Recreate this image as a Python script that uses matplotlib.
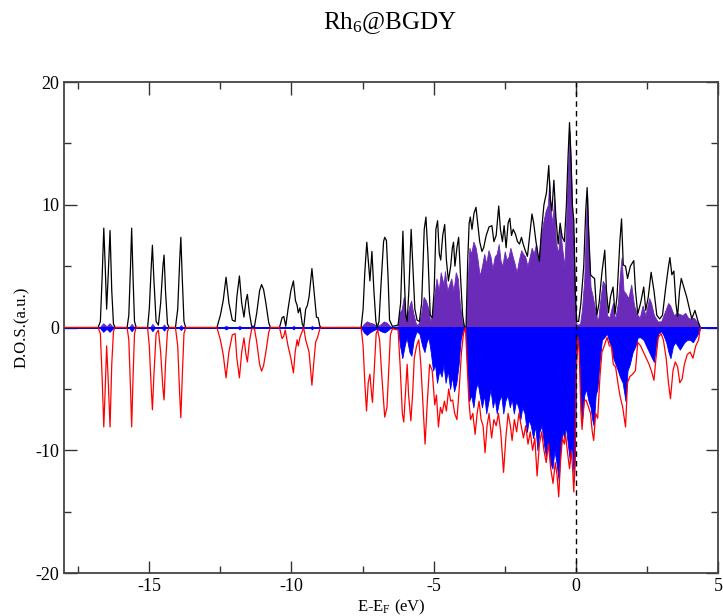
import matplotlib
matplotlib.use("Agg")
import matplotlib.pyplot as plt
import numpy as np

plt.rcParams['font.family'] = ['Liberation Serif', 'DejaVu Serif']
plt.rcParams['mathtext.fontset'] = 'custom'
plt.rcParams['mathtext.rm'] = 'Liberation Serif'
plt.rcParams['mathtext.it'] = 'Liberation Serif:italic'
plt.rcParams['axes.unicode_minus'] = False

# total DOS, spin up (E-E_F, DOS)
up_total = [
    (-18.0, 0), (-16.80, 0), (-16.72, 0.5), (-16.66, 4.0), (-16.60, 8.1), (-16.55, 5.0), (-16.50, 1.5),
    (-16.45, 4.0), (-16.38, 7.9), (-16.32, 3.0), (-16.26, 0.3), (-16.20, 0),
    (-15.78, 0), (-15.72, 1.0), (-15.66, 5.0), (-15.62, 8.1), (-15.57, 4.0), (-15.52, 0.5), (-15.46, 0),
    (-15.06, 0), (-15.00, 1.5), (-14.93, 5.0), (-14.89, 6.7), (-14.84, 4.0), (-14.76, 0.5), (-14.68, 0.2),
    (-14.60, 2.0), (-14.52, 5.0), (-14.48, 5.9), (-14.43, 3.0), (-14.36, 0.3), (-14.30, 0),
    (-14.08, 0), (-14.00, 1.5), (-13.93, 5.5), (-13.89, 7.35), (-13.84, 4.0), (-13.78, 0.5), (-13.72, 0),
    (-12.62, 0), (-12.50, 1.0), (-12.40, 2.2), (-12.30, 4.1), (-12.20, 2.0), (-12.08, 0.6), (-11.98, 0.5),
    (-11.92, 2.5), (-11.83, 4.2), (-11.75, 2.0), (-11.67, 0.85), (-11.60, 2.2), (-11.55, 2.7), (-11.48, 1.2),
    (-11.40, 0.1), (-11.30, 0.1), (-11.22, 1.2), (-11.12, 3.0), (-11.05, 3.5), (-10.98, 3.1), (-10.90, 2.0),
    (-10.80, 0.4), (-10.74, 0),
    (-10.42, 0), (-10.33, 0.8), (-10.27, 0.9), (-10.20, 0.1), (-10.12, 1.5), (-10.02, 3.0), (-9.93, 3.8),
    (-9.86, 2.2), (-9.80, 1.8), (-9.76, 1.2), (-9.70, 1.6), (-9.62, 0.3), (-9.57, 0), (-9.50, 1.5),
    (-9.44, 1.8), (-9.38, 2.5), (-9.28, 4.8), (-9.20, 2.8), (-9.12, 0.85), (-9.06, 0.8), (-9.00, 0.1), (-8.95, 0),
    (-7.55, 0), (-7.48, 1.5), (-7.42, 4.5), (-7.35, 6.95), (-7.28, 5.0), (-7.24, 3.8), (-7.20, 5.2),
    (-7.17, 6.2), (-7.10, 3.0), (-7.03, 0.5), (-6.98, 0), (-6.92, 0.5), (-6.85, 3.5), (-6.76, 7.0),
    (-6.72, 7.35), (-6.66, 7.1), (-6.60, 4.0), (-6.55, 0.6), (-6.45, 0.1), (-6.25, 0.2), (-6.16, 2.0),
    (-6.08, 7.85), (-6.03, 4.0), (-5.98, 1.0), (-5.93, 0.5), (-5.87, 3.0), (-5.79, 8.0), (-5.73, 5.0),
    (-5.66, 1.5), (-5.58, 0.6), (-5.50, 0.5), (-5.42, 2.0), (-5.33, 8.0), (-5.27, 9.0), (-5.20, 6.0),
    (-5.12, 1.0), (-5.05, 0.8), (-4.98, 3.0), (-4.92, 8.0), (-4.86, 8.7), (-4.80, 6.0), (-4.75, 5.5),
    (-4.68, 7.5), (-4.61, 8.4), (-4.55, 5.5), (-4.48, 3.8), (-4.40, 5.0), (-4.34, 6.5), (-4.30, 6.95),
    (-4.25, 5.0), (-4.18, 6.5), (-4.12, 7.35), (-4.05, 4.0), (-3.98, 1.0), (-3.92, 0.1), (-3.86, 0),
    (-3.80, 5.5), (-3.75, 8.5), (-3.71, 9.0), (-3.65, 8.0), (-3.58, 9.3), (-3.51, 9.8), (-3.45, 8.5),
    (-3.38, 7.0), (-3.30, 6.2), (-3.24, 6.5), (-3.15, 7.5), (-3.05, 8.2), (-2.95, 8.3), (-2.88, 7.0),
    (-2.80, 7.5), (-2.71, 9.9), (-2.65, 8.0), (-2.58, 7.0), (-2.52, 8.3), (-2.45, 6.5), (-2.38, 8.5),
    (-2.32, 8.9), (-2.26, 7.5), (-2.20, 8.0), (-2.12, 7.6), (-2.05, 7.0), (-1.98, 6.8), (-1.91, 7.35),
    (-1.85, 6.8), (-1.78, 6.3), (-1.70, 5.8), (-1.62, 7.5), (-1.54, 9.25), (-1.48, 8.5), (-1.40, 7.0),
    (-1.33, 6.0), (-1.28, 5.4), (-1.22, 7.5), (-1.12, 10.0), (-1.03, 11.0), (-0.95, 13.2), (-0.90, 10.5),
    (-0.84, 9.5), (-0.77, 12.0), (-0.70, 9.0), (-0.62, 6.8), (-0.55, 8.5), (-0.48, 7.4), (-0.40, 7.0),
    (-0.33, 10.0), (-0.27, 14.0), (-0.22, 16.7), (-0.17, 14.0), (-0.12, 10.0), (-0.07, 8.7), (-0.02, 3.0),
    (0.03, 0.5), (0.10, 0.5), (0.18, 2.0), (0.28, 5.0), (0.35, 9.5), (0.40, 11.4), (0.45, 8.0),
    (0.52, 4.3), (0.60, 4.1), (0.66, 4.0), (0.74, 1.0), (0.82, 2.0), (0.92, 4.5), (1.02, 6.3),
    (1.08, 3.0), (1.15, 1.2), (1.22, 2.5), (1.31, 3.3), (1.38, 1.1), (1.45, 2.5), (1.55, 7.0),
    (1.61, 8.85), (1.67, 5.1), (1.75, 5.0), (1.82, 4.0), (1.92, 5.0), (2.04, 5.45), (2.10, 3.0),
    (2.18, 1.1), (2.28, 2.0), (2.39, 3.3), (2.46, 1.4), (2.55, 2.5), (2.65, 4.5), (2.75, 3.0),
    (2.85, 1.0), (2.95, 0.7), (3.05, 1.0), (3.15, 3.0), (3.25, 4.8), (3.31, 5.7), (3.38, 4.3),
    (3.45, 4.6), (3.52, 2.0), (3.58, 0.9), (3.65, 3.0), (3.71, 4.0), (3.80, 3.3), (3.90, 2.5),
    (4.00, 1.5), (4.08, 0.7), (4.19, 1.4), (4.30, 0.5), (4.38, 0),
]

# total DOS, spin down
dn_total = [
    (-18.0, 0), (-16.80, 0), (-16.72, -0.5), (-16.66, -4.0), (-16.60, -8.1), (-16.55, -5.0), (-16.50, -1.5),
    (-16.45, -4.0), (-16.38, -8.1), (-16.32, -3.0), (-16.26, -0.3), (-16.20, 0),
    (-15.78, 0), (-15.72, -1.0), (-15.66, -5.0), (-15.62, -8.1), (-15.57, -4.0), (-15.52, -0.5), (-15.46, 0),
    (-15.06, 0), (-15.00, -1.5), (-14.93, -5.0), (-14.89, -6.7), (-14.84, -4.0), (-14.76, -0.5), (-14.68, -0.2),
    (-14.60, -2.0), (-14.52, -5.0), (-14.48, -5.9), (-14.43, -3.0), (-14.36, -0.3), (-14.30, 0),
    (-14.08, 0), (-14.00, -1.5), (-13.93, -5.5), (-13.89, -7.35), (-13.84, -4.0), (-13.78, -0.5), (-13.72, 0),
    (-12.62, 0), (-12.50, -1.0), (-12.40, -2.2), (-12.30, -4.1), (-12.20, -2.0), (-12.08, -0.6), (-11.98, -0.5),
    (-11.92, -2.5), (-11.83, -4.1), (-11.75, -2.0), (-11.67, -0.85), (-11.60, -2.2), (-11.55, -2.8), (-11.48, -1.2),
    (-11.40, -0.1), (-11.30, -0.1), (-11.22, -1.2), (-11.12, -3.0), (-11.05, -3.55), (-10.98, -3.1), (-10.90, -2.0),
    (-10.80, -0.4), (-10.74, 0),
    (-10.42, 0), (-10.33, -0.9), (-10.27, -0.7), (-10.22, -0.2), (-10.12, -1.5), (-10.02, -2.5), (-9.93, -3.7),
    (-9.87, -2.0), (-9.80, -1.0), (-9.76, -1.5), (-9.70, -0.8), (-9.62, -0.3), (-9.57, 0), (-9.50, -1.0),
    (-9.44, -1.5), (-9.38, -2.0), (-9.28, -4.7), (-9.22, -3.0), (-9.15, -1.2), (-9.08, -0.8), (-9.00, -0.1), (-8.95, 0),
    (-7.55, 0), (-7.48, -1.5), (-7.42, -4.5), (-7.36, -6.8), (-7.30, -4.5), (-7.24, -3.8), (-7.18, -5.5),
    (-7.15, -6.1), (-7.08, -3.0), (-7.02, -0.5), (-6.97, -0.2), (-6.90, -1.0), (-6.82, -4.0), (-6.72, -7.3),
    (-6.64, -6.5), (-6.58, -3.5), (-6.52, -0.6), (-6.45, -0.1), (-6.25, -0.2), (-6.18, -3.0), (-6.10, -7.0),
    (-6.05, -7.7), (-5.98, -5.0), (-5.93, -3.0), (-5.88, -5.5), (-5.80, -7.6), (-5.74, -5.5), (-5.68, -2.5),
    (-5.60, -1.5), (-5.52, -1.0), (-5.45, -3.0), (-5.36, -7.0), (-5.30, -9.5), (-5.22, -6.0), (-5.14, -3.0),
    (-5.05, -3.5), (-4.96, -6.3), (-4.90, -5.5), (-4.83, -8.1), (-4.76, -6.5), (-4.70, -7.0), (-4.62, -6.0),
    (-4.55, -6.8), (-4.47, -5.0), (-4.40, -6.0), (-4.33, -5.9), (-4.26, -7.0), (-4.18, -7.5), (-4.10, -5.0),
    (-4.02, -2.0), (-3.95, -0.5), (-3.88, 0),
    (-3.82, -3.0), (-3.76, -6.0), (-3.70, -7.5), (-3.62, -7.0), (-3.54, -8.7), (-3.47, -7.0), (-3.40, -6.0),
    (-3.33, -7.5), (-3.26, -8.0), (-3.19, -10.2), (-3.12, -8.0), (-3.05, -7.0), (-2.96, -9.0), (-2.88, -7.5),
    (-2.80, -8.0), (-2.72, -7.0), (-2.64, -8.5), (-2.54, -11.8), (-2.46, -9.0), (-2.38, -7.0), (-2.30, -8.0),
    (-2.24, -9.2), (-2.16, -7.5), (-2.08, -8.5), (-2.00, -7.0), (-1.92, -8.0), (-1.84, -9.0), (-1.76, -8.0),
    (-1.68, -9.5), (-1.60, -8.5), (-1.52, -10.0), (-1.44, -9.0), (-1.36, -12.1), (-1.28, -9.5), (-1.20, -8.5),
    (-1.12, -10.0), (-1.04, -11.0), (-0.96, -9.5), (-0.88, -11.5), (-0.80, -12.7), (-0.72, -11.0), (-0.66, -12.0),
    (-0.60, -13.8), (-0.54, -11.0), (-0.47, -9.0), (-0.40, -9.5), (-0.36, -8.7), (-0.30, -10.0), (-0.22, -11.5),
    (-0.15, -10.0), (-0.10, -12.0), (-0.07, -13.4), (-0.03, -11.0), (0.02, -3.0), (0.07, -0.8),
    (0.12, -2.0), (0.18, -6.8), (0.22, -8.3), (0.30, -6.0), (0.36, -5.9), (0.45, -6.5), (0.52, -7.0),
    (0.58, -8.5), (0.63, -9.2), (0.70, -7.0), (0.77, -7.4), (0.85, -4.0), (0.92, -2.0), (1.00, -1.5),
    (1.10, -0.8), (1.18, -1.5), (1.25, -1.5), (1.32, -3.0), (1.40, -3.2), (1.48, -4.5), (1.55, -5.5),
    (1.65, -6.5), (1.75, -8.1), (1.82, -4.5), (1.90, -4.0), (2.00, -3.8), (2.10, -3.5), (2.18, -1.2),
    (2.28, -1.5), (2.38, -2.0), (2.48, -2.5), (2.58, -3.0), (2.68, -3.7), (2.75, -4.3), (2.82, -2.5),
    (2.90, -0.8), (3.00, -0.5), (3.08, -1.0), (3.18, -2.5), (3.26, -4.5), (3.33, -5.8), (3.42, -3.5),
    (3.50, -2.8), (3.58, -3.2), (3.66, -4.5), (3.74, -4.2), (3.82, -3.0), (3.92, -2.2), (4.02, -2.0),
    (4.12, -2.5), (4.22, -1.5), (4.32, -1.0), (4.38, 0),
]

# Rh projected DOS, spin up
up_rh = [
    (-18.0, 0), (-16.75, 0), (-16.62, 0.35), (-16.50, 0.1), (-16.40, 0.35), (-16.25, 0),
    (-15.72, 0), (-15.62, 0.3), (-15.52, 0), (-14.98, 0), (-14.89, 0.3), (-14.80, 0),
    (-14.57, 0), (-14.48, 0.25), (-14.40, 0), (-13.97, 0), (-13.89, 0.2), (-13.80, 0),
    (-12.40, 0), (-12.30, 0.15), (-12.20, 0), (-11.90, 0), (-11.83, 0.15), (-11.75, 0),
    (-9.98, 0), (-9.93, 0.15), (-9.86, 0), (-9.34, 0), (-9.28, 0.15), (-9.22, 0),
    (-7.55, 0), (-7.45, 0.3), (-7.35, 0.5), (-7.25, 0.4), (-7.10, 0.3), (-7.00, 0.1), (-6.90, 0.2),
    (-6.75, 0.5), (-6.65, 0.4), (-6.50, 0.05), (-6.25, 0.1), (-6.20, 1.2), (-6.12, 1.5), (-6.05, 2.5),
    (-5.98, 1.0), (-5.92, 1.0), (-5.85, 1.8), (-5.79, 2.2), (-5.72, 1.2), (-5.62, 0.3), (-5.55, 0.2),
    (-5.45, 1.0), (-5.35, 2.5), (-5.27, 2.2), (-5.18, 1.5), (-5.12, 0.5), (-5.05, 1.0), (-4.98, 2.5),
    (-4.90, 4.0), (-4.82, 3.0), (-4.75, 4.5), (-4.65, 3.5), (-4.60, 4.6), (-4.52, 3.0), (-4.45, 3.5),
    (-4.38, 4.0), (-4.30, 3.0), (-4.22, 4.5), (-4.15, 4.0), (-4.08, 2.0), (-4.00, 0.5), (-3.92, 0.1), (-3.86, 0),
    (-3.80, 4.0), (-3.74, 6.5), (-3.68, 6.0), (-3.60, 7.0), (-3.52, 6.5), (-3.45, 5.5), (-3.38, 4.2),
    (-3.30, 5.0), (-3.22, 6.0), (-3.15, 5.2), (-3.07, 6.3), (-3.00, 5.8), (-2.93, 4.8), (-2.85, 5.8),
    (-2.78, 6.0), (-2.71, 6.8), (-2.65, 5.5), (-2.58, 5.0), (-2.50, 6.2), (-2.43, 5.5), (-2.36, 5.8),
    (-2.30, 6.5), (-2.22, 5.8), (-2.15, 5.2), (-2.08, 4.5), (-2.00, 5.5), (-1.92, 6.3), (-1.85, 6.0),
    (-1.78, 5.8), (-1.70, 5.0), (-1.62, 5.8), (-1.55, 6.5), (-1.48, 6.0), (-1.40, 6.8), (-1.32, 5.3),
    (-1.25, 7.0), (-1.15, 8.5), (-1.06, 9.5), (-0.98, 10.0), (-0.93, 12.0), (-0.88, 9.5), (-0.82, 8.5),
    (-0.76, 10.5), (-0.70, 7.0), (-0.62, 6.0), (-0.55, 8.0), (-0.48, 6.5), (-0.40, 5.0), (-0.33, 9.0),
    (-0.27, 13.0), (-0.22, 16.0), (-0.17, 13.0), (-0.12, 9.0), (-0.07, 7.0), (-0.02, 2.0), (0.03, 0.2),
    (0.15, 0.3), (0.22, 1.5), (0.30, 4.0), (0.36, 8.5), (0.40, 11.0), (0.45, 7.0), (0.52, 3.3),
    (0.60, 2.5), (0.70, 1.2), (0.78, 0.5), (0.85, 2.0), (0.95, 3.8), (1.02, 3.5), (1.10, 1.0),
    (1.18, 0.8), (1.25, 1.5), (1.31, 2.0), (1.38, 0.6), (1.48, 2.0), (1.56, 4.5), (1.61, 5.7),
    (1.68, 3.0), (1.75, 2.8), (1.85, 2.4), (1.95, 3.5), (2.05, 1.8), (2.15, 1.1), (2.25, 0.8),
    (2.35, 1.8), (2.45, 1.0), (2.58, 2.4), (2.65, 2.0), (2.75, 1.0), (2.88, 0.5), (3.00, 0.5),
    (3.12, 1.2), (3.25, 2.0), (3.32, 1.8), (3.45, 1.0), (3.55, 1.2), (3.65, 1.1), (3.75, 1.0),
    (3.85, 1.2), (3.95, 0.8), (4.05, 0.7), (4.15, 0.8), (4.25, 0.5), (4.38, 0),
]

# Rh projected DOS, spin down
dn_rh = [
    (-18.0, 0), (-16.75, 0), (-16.62, -0.35), (-16.50, -0.1), (-16.40, -0.35), (-16.25, 0),
    (-15.72, 0), (-15.62, -0.3), (-15.52, 0), (-14.98, 0), (-14.89, -0.3), (-14.80, 0),
    (-14.57, 0), (-14.48, -0.25), (-14.40, 0), (-13.97, 0), (-13.89, -0.2), (-13.80, 0),
    (-12.40, 0), (-12.30, -0.15), (-12.20, 0), (-11.90, 0), (-11.83, -0.15), (-11.75, 0),
    (-9.98, 0), (-9.93, -0.15), (-9.86, 0), (-9.34, 0), (-9.28, -0.15), (-9.22, 0),
    (-7.55, 0), (-7.45, -0.4), (-7.35, -0.6), (-7.25, -0.4), (-7.10, -0.2), (-7.00, -0.1), (-6.85, -0.3),
    (-6.72, -0.4), (-6.60, -0.2), (-6.50, 0), (-6.25, -0.1), (-6.18, -1.5), (-6.10, -2.5), (-6.02, -1.5),
    (-5.95, -0.8), (-5.85, -2.0), (-5.78, -2.3), (-5.70, -1.0), (-5.60, -0.3), (-5.50, -0.5), (-5.40, -1.5),
    (-5.32, -2.0), (-5.25, -1.2), (-5.18, -0.8), (-5.10, -2.0), (-5.02, -3.5), (-4.95, -3.0), (-4.88, -4.5),
    (-4.80, -3.5), (-4.72, -4.0), (-4.65, -3.0), (-4.58, -4.5), (-4.50, -3.5), (-4.42, -5.0), (-4.35, -4.0),
    (-4.28, -5.2), (-4.20, -4.5), (-4.12, -3.0), (-4.05, -1.0), (-3.97, -0.2), (-3.88, 0),
    (-3.82, -3.5), (-3.75, -6.0), (-3.68, -5.5), (-3.60, -6.5), (-3.52, -5.0), (-3.45, -4.5), (-3.38, -5.5),
    (-3.30, -6.5), (-3.22, -5.5), (-3.15, -7.0), (-3.07, -6.0), (-3.00, -5.0), (-2.92, -6.5), (-2.85, -5.8),
    (-2.78, -7.0), (-2.70, -6.0), (-2.62, -5.5), (-2.55, -7.0), (-2.48, -6.0), (-2.40, -5.5), (-2.32, -6.5),
    (-2.25, -5.8), (-2.18, -7.0), (-2.10, -6.0), (-2.02, -6.5), (-1.95, -7.5), (-1.88, -6.5), (-1.80, -7.0),
    (-1.72, -8.5), (-1.65, -7.5), (-1.58, -8.0), (-1.50, -9.0), (-1.42, -8.0), (-1.35, -10.0), (-1.28, -8.5),
    (-1.20, -8.0), (-1.12, -9.5), (-1.05, -10.5), (-0.98, -9.0), (-0.90, -11.0), (-0.82, -11.5), (-0.75, -10.0),
    (-0.68, -11.0), (-0.60, -12.5), (-0.54, -10.0), (-0.47, -8.5), (-0.40, -9.0), (-0.35, -8.0), (-0.28, -9.5),
    (-0.20, -11.0), (-0.14, -9.5), (-0.09, -11.5), (-0.06, -12.5), (-0.03, -10.0), (0.02, -2.5), (0.07, -0.5),
    (0.12, -2.0), (0.18, -6.5), (0.22, -7.5), (0.30, -5.5), (0.36, -5.0), (0.45, -6.0), (0.52, -6.5),
    (0.58, -7.5), (0.63, -8.0), (0.70, -5.5), (0.76, -5.0), (0.85, -2.5), (0.92, -1.0), (1.00, -0.8),
    (1.10, -0.5), (1.18, -1.2), (1.25, -1.5), (1.32, -2.5), (1.40, -3.0), (1.48, -3.5), (1.55, -4.0),
    (1.65, -4.5), (1.75, -6.0), (1.82, -3.5), (1.90, -3.0), (2.00, -2.0), (2.10, -1.5), (2.18, -0.8),
    (2.28, -0.8), (2.38, -1.0), (2.48, -1.5), (2.58, -2.0), (2.68, -2.5), (2.75, -2.8), (2.82, -1.5),
    (2.90, -0.5), (3.00, -0.3), (3.08, -0.6), (3.18, -1.2), (3.26, -2.0), (3.33, -2.5), (3.42, -1.5),
    (3.50, -1.2), (3.58, -1.5), (3.66, -1.8), (3.74, -1.5), (3.82, -1.2), (3.92, -1.0), (4.02, -1.0),
    (4.12, -1.2), (4.22, -0.8), (4.32, -0.4), (4.38, 0),
]

ut = np.array(up_total)
dt = np.array(dn_total)
ur = np.array(up_rh)
dr = np.array(dn_rh)

fig = plt.figure(figsize=(7.23, 6.16), dpi=100)
ax = fig.add_axes([0.0885, 0.0698, 0.9045, 0.797])

ax.fill_between(ur[:, 0], 0, ur[:, 1], color='#6a2bb8', lw=0.6)
ax.fill_between(dr[:, 0], 0, dr[:, 1], color='#0000ff', lw=0.6)
ax.axhline(0, color='#0000ff', lw=1.4)
ax.plot(ut[:, 0], ut[:, 1], color='black', lw=0.9)
ax.plot(dt[:, 0], dt[:, 1], color='red', lw=0.9)
ax.axvline(0, color='black', lw=1.0, ls=(0, (4, 3)))

ax.set_xlim(-18, 5)
ax.set_ylim(-20, 20)
ax.set_xticks([-15, -10, -5, 0, 5])
ax.set_xticks(np.arange(-17.5, 5, 2.5), minor=True)
ax.set_yticks([-20, -10, 0, 10, 20])
ax.set_yticks([-15, -5, 5, 15], minor=True)
ax.tick_params(which='both', direction='in', top=True, right=True, labelsize=13, colors='#333333',
               labelcolor='black')
ax.tick_params(which='major', length=9, width=1.0)
ax.tick_params(which='minor', length=5, width=1.0)
for s in ax.spines.values():
    s.set_color('#444444')
    s.set_linewidth(1.3)

ax.set_xlabel(r'E-E$_{\mathrm{F}}$ (eV)', fontsize=12, labelpad=2)
ax.set_ylabel('D.O.S.(a.u.)', fontsize=12, labelpad=4)
fig.text(0.54, 0.962, r'Rh$_{6}$@BGDY', fontsize=18, ha='center', va='center')

fig.savefig('out.png', dpi=100)
